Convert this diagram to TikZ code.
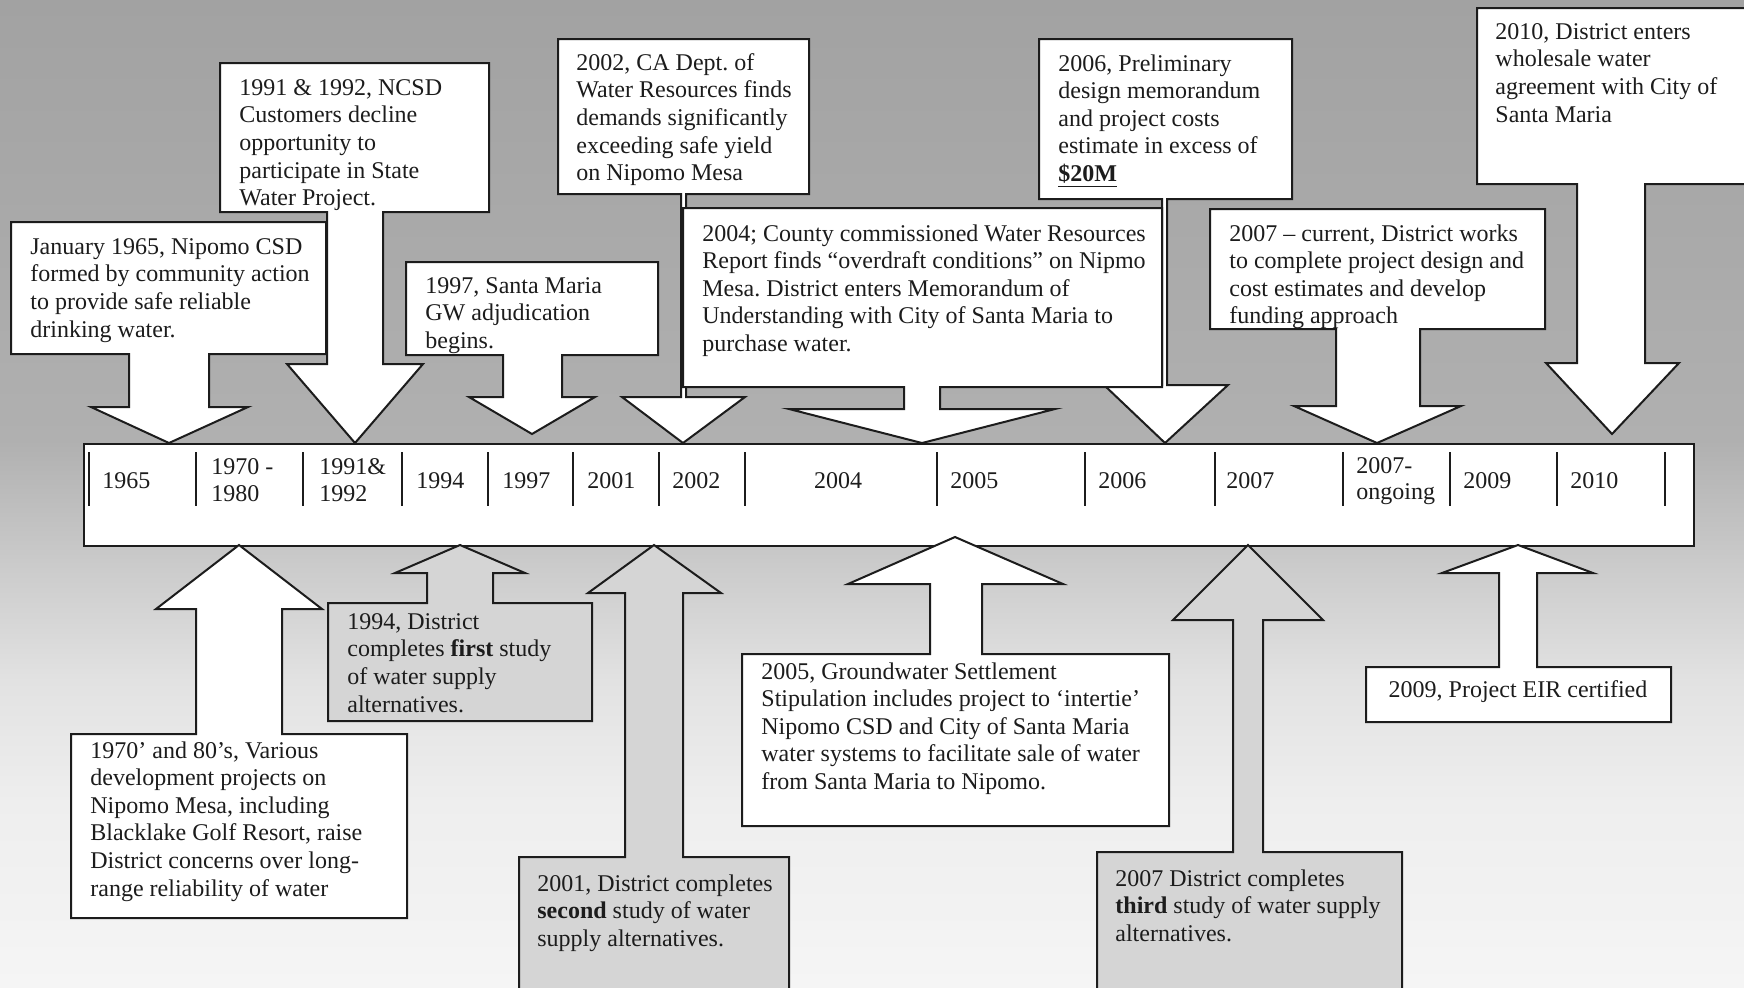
\documentclass[tikz,border=0pt]{standalone}
\usepackage{fontspec}
\setmainfont{Liberation Serif}
\frenchspacing
\definecolor{bgA}{HTML}{A2A2A2}
\definecolor{bgB}{HTML}{B0B0B0}
\definecolor{bgC}{HTML}{CACACA}
\definecolor{bgD}{HTML}{E2E2E2}
\definecolor{bgE}{HTML}{EEEEEE}
\definecolor{bgF}{HTML}{F5F5F5}
\definecolor{lgray}{HTML}{D5D5D5}
\definecolor{ink}{HTML}{1C1C1C}
\begin{document}
\begin{tikzpicture}[x=0.5pt,y=-0.5pt,
  callout/.style={draw=ink, line width=1pt, line join=miter, fill=white},
  gcallout/.style={callout, fill=lgray},
  txt/.style={anchor=north west, inner sep=0pt, align=left, text=ink,
    font=\fontsize{12}{13.8}\selectfont},
  yr/.style={anchor=west, inner sep=0pt, align=left, text=ink,
    font=\fontsize{12}{13.2}\selectfont},
  tickline/.style={draw=ink, line width=0.8pt}]
\useasboundingbox (0,0) rectangle (1744,987);
\clip (0,0) rectangle (1744,987);
% background
\shade[top color=bgA, bottom color=bgB] (0,0) rectangle (1744,441);
\shade[top color=bgB, bottom color=bgC] (0,440) rectangle (1744,561);
\shade[top color=bgC, bottom color=bgD] (0,560) rectangle (1744,681);
\shade[top color=bgD, bottom color=bgE] (0,680) rectangle (1744,801);
\shade[top color=bgE, bottom color=bgF] (0,800) rectangle (1744,987);

% ---------- top callouts ----------
% 1991
\path[callout] (220,63) -- (489,63) -- (489,212) -- (383,212) -- (383,364) -- (423,364) -- (355,443) -- (287,364) -- (327,364) -- (327,212) -- (220,212) -- cycle;
\node[txt] (t1991) at (239,79) {1991 \& 1992, NCSD\\Customers decline\\opportunity to\\participate in State\\Water Project.};
% 1965
\path[callout] (11,222) -- (326,222) -- (326,354) -- (209,354) -- (209,407) -- (248,407) -- (169,443) -- (91,407) -- (129,407) -- (129,354) -- (11,354) -- cycle;
\node[txt] (t1965) at (30,238) {January 1965, Nipomo CSD\\formed by community action\\to provide safe reliable\\drinking water.};
% 2002
\path[callout] (558,39) -- (809,39) -- (809,194) -- (686,194) -- (686,397) -- (745,397) -- (683,443) -- (622,397) -- (681,397) -- (681,194) -- (558,194) -- cycle;
\node[txt] (t2002) at (576,53) {2002, CA Dept. of\\Water Resources finds\\demands significantly\\exceeding safe yield\\on Nipomo Mesa};
% 2006
\path[callout] (1039,39) -- (1292,39) -- (1292,199) -- (1167,199) -- (1167,385) -- (1228,385) -- (1165,443) -- (1104,385) -- (1162,385) -- (1162,199) -- (1039,199) -- cycle;
\node[txt] (t2006) at (1058,54) {2006, Preliminary\\design memorandum\\and project costs\\estimate in excess of\\\underline{\textbf{\$20M}}};
% 2004
\path[callout] (683,208) -- (1162,208) -- (1162,387) -- (940,387) -- (940,409) -- (1055,409) -- (922,443) -- (789,409) -- (904,409) -- (904,387) -- (683,387) -- cycle;
\node[txt] (t2004) at (702,224) {2004; County commissioned Water Resources\\Report finds “overdraft conditions” on Nipmo\\Mesa. District enters Memorandum of\\Understanding with City of Santa Maria to\\purchase water.};
% 1997
\path[callout] (406,262) -- (658,262) -- (658,355) -- (562,355) -- (562,397) -- (595,397) -- (532,434) -- (469,397) -- (503,397) -- (503,355) -- (406,355) -- cycle;
\node[txt] (t1997) at (425,277) {1997, Santa Maria\\GW adjudication\\begins.};
% 2007 current
\path[callout] (1210,209) -- (1545,209) -- (1545,329) -- (1420,329) -- (1420,406) -- (1461,406) -- (1377,443) -- (1294,406) -- (1336,406) -- (1336,329) -- (1210,329) -- cycle;
\node[txt] (t2007c) at (1229,224) {2007 – current, District works\\to complete project design and\\cost estimates and develop\\funding approach};
% 2010
\path[callout] (1477,8) -- (1752,8) -- (1752,184) -- (1645,184) -- (1645,363) -- (1679,363) -- (1612,434) -- (1546,363) -- (1577,363) -- (1577,184) -- (1477,184) -- cycle;
\node[txt] (t2010) at (1495,23) {2010, District enters\\wholesale water\\agreement with City of\\Santa Maria};

% ---------- timeline ----------
\node[draw=ink, line width=1pt, fill=white, inner sep=0pt, minimum width=805pt, minimum height=51pt, anchor=north west] (timeline) at (83,443) {};
\foreach \x in {89,196,303,402,488,573,659,745,937,1085,1215,1343,1450,1557,1665}
  \draw[tickline] (\x,452) -- (\x,506);
\node[yr] (y1965) at (102,481) {1965};
\node[yr] (y1970) at (211,480) {1970 -\\1980};
\node[yr] (y1991) at (319,480) {1991\&\\1992};
\node[yr] (y1994) at (416,481) {1994};
\node[yr] (y1997) at (502,481) {1997};
\node[yr] (y2001) at (587,481) {2001};
\node[yr] (y2002) at (672,481) {2002};
\node[yr, anchor=center] (y2004) at (838,481) {2004};
\node[yr] (y2005) at (950,481) {2005};
\node[yr] (y2006) at (1098,481) {2006};
\node[yr] (y2007) at (1226,481) {2007};
\node[yr] (y2007o) at (1356,481) {2007-\\ongoing};
\node[yr] (y2009) at (1463,481) {2009};
\node[yr] (y2010) at (1570,481) {2010};

% ---------- bottom callouts ----------
% 1970s
\path[callout] (71,918) -- (71,734) -- (196,734) -- (196,609) -- (156,609) -- (239,545) -- (322,609) -- (282,609) -- (282,734) -- (407,734) -- (407,918) -- cycle;
\node[txt] (t1970) at (90,741) {1970’ and 80’s, Various\\development projects on\\Nipomo Mesa, including\\Blacklake Golf Resort, raise\\District concerns over long-\\range reliability of water};
% 1994
\path[gcallout] (328,721) -- (328,603) -- (427,603) -- (427,573) -- (395,573) -- (460,545) -- (525,573) -- (493,573) -- (493,603) -- (592,603) -- (592,721) -- cycle;
\node[txt] (t1994) at (347,613) {1994, District\\completes \textbf{first} study\\of water supply\\alternatives.};
% 2001
\path[gcallout] (519,995) -- (519,857) -- (625,857) -- (625,593) -- (588,593) -- (654,545) -- (721,593) -- (683,593) -- (683,857) -- (789,857) -- (789,995) -- cycle;
\node[txt] (t2001) at (537,874) {2001, District completes\\\textbf{second} study of water\\supply alternatives.};
% 2005
\path[callout] (742,826) -- (742,654) -- (930,654) -- (930,584) -- (848,584) -- (955,537) -- (1063,584) -- (982,584) -- (982,654) -- (1169,654) -- (1169,826) -- cycle;
\node[txt] (t2005) at (761,662) {2005, Groundwater Settlement\\Stipulation includes project to ‘intertie’\\Nipomo CSD and City of Santa Maria\\water systems to facilitate sale of water\\from Santa Maria to Nipomo.};
% 2007 third
\path[gcallout] (1097,995) -- (1097,852) -- (1233,852) -- (1233,620) -- (1173,620) -- (1248,545) -- (1323,620) -- (1263,620) -- (1263,852) -- (1402,852) -- (1402,995) -- cycle;
\node[txt] (t2007t) at (1115,869) {2007 District completes\\\textbf{third} study of water supply\\alternatives.};
% 2009
\path[callout] (1366,722) -- (1366,667) -- (1499,667) -- (1499,573) -- (1442,573) -- (1518,545) -- (1593,573) -- (1537,573) -- (1537,667) -- (1671,667) -- (1671,722) -- cycle;
\node[txt, anchor=center] (t2009) at (1518,692) {2009, Project EIR certified};
\end{tikzpicture}
\end{document}
